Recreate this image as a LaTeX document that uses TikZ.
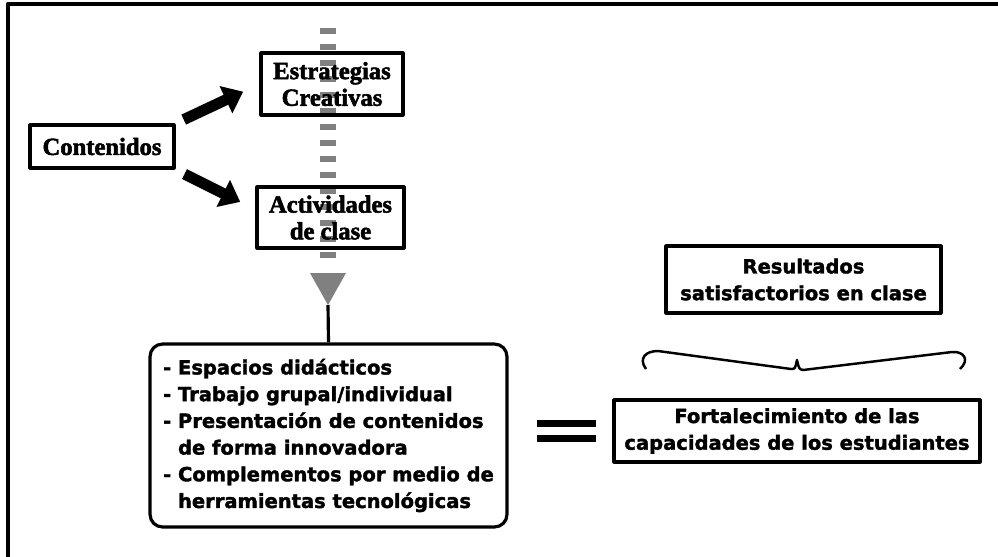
\documentclass[tikz,border=0pt]{standalone}
\usepackage{fontspec}
\setmainfont{Liberation Serif}
\newfontfamily\heavyserif{Liberation Serif}[UprightFont=* Bold,FakeBold=2.2]
\newfontfamily\heavysans{DejaVu Sans}[UprightFont=* Bold,FakeBold=1.8]
\usetikzlibrary{arrows.meta,calc}

\begin{document}
\begin{tikzpicture}[x=0.02cm,y=-0.02cm,line join=round,
  box/.style={draw,line width=1.8pt,align=center,inner sep=0pt},
  serifbox/.style={box,font=\heavyserif\fontsize{14}{15.2}\selectfont},
  sansbox/.style={box,font=\heavysans\fontsize{11.1}{15.2}\selectfont},
  bigarrow/.style={line width=0.22cm,-{Triangle[length=0.38cm,width=0.58cm]}},
  graydash/.style={black!50,line width=0.32cm,dash pattern=on 0.12cm off 0.2cm}]
  \useasboundingbox (0,0) rectangle (998,556);
  \draw[line width=2.5pt] (8,4) rectangle (1020,580);
  \coordinate (dtop) at (328,28);
  \coordinate (dbot) at (328,260);
  \coordinate (tip) at (328,305);
  \draw[graydash] (dtop) -- (dbot);
  \fill[black!50] (310,273) -- (346,273) -- (tip) -- cycle;
  \node[serifbox,minimum width=2.88cm,minimum height=0.86cm] (cont) at (102,146.5) {Contenidos};
  \node[serifbox,minimum width=2.84cm,minimum height=1.24cm] (estr) at (332,84) {Estrategias\\Creativas};
  \node[serifbox,minimum width=2.94cm,minimum height=1.22cm] (act) at (330.5,217.5) {Actividades\\de clase};
  \node[sansbox,rounded corners=0.25cm,align=left,minimum width=7.14cm,minimum height=3.66cm] (list) at (328.5,435.5) {- Espacios didácticos\\- Trabajo grupal/individual\\- Presentación de contenidos\\\hphantom{- }de forma innovadora\\- Complementos por medio de\\\hphantom{- }herramientas tecnológicas};
  \node[sansbox,minimum width=7.32cm,minimum height=1.24cm] (fort) at (797,431) {Fortalecimiento de las\\capacidades de los estudiantes};
  \node[sansbox,minimum width=5.5cm,minimum height=1.34cm] (res) at (803.5,279.5) {Resultados\\satisfactorios en clase};
  \draw[bigarrow,shorten <=0.18cm,shorten >=0.36cm] (cont.north east) -- (estr.west);
  \draw[bigarrow,shorten <=0.2cm,shorten >=0.34cm] (cont.south east) -- ($(act.west)+(0,-8)$);
  \draw[line width=1.8pt] (tip) -- (list.north);
  \fill (537,420) rectangle (596,427);
  \fill (537,435) rectangle (596,442);
  \draw[line width=1.4pt] (646,369) .. controls (638,358) and (646,351) .. (658,351) -- (791,369) .. controls (795,369) .. (797,360) .. controls (799,369) .. (803,370) -- (952,352) .. controls (964,351) and (970,360) .. (960,369);
\end{tikzpicture}
\end{document}
